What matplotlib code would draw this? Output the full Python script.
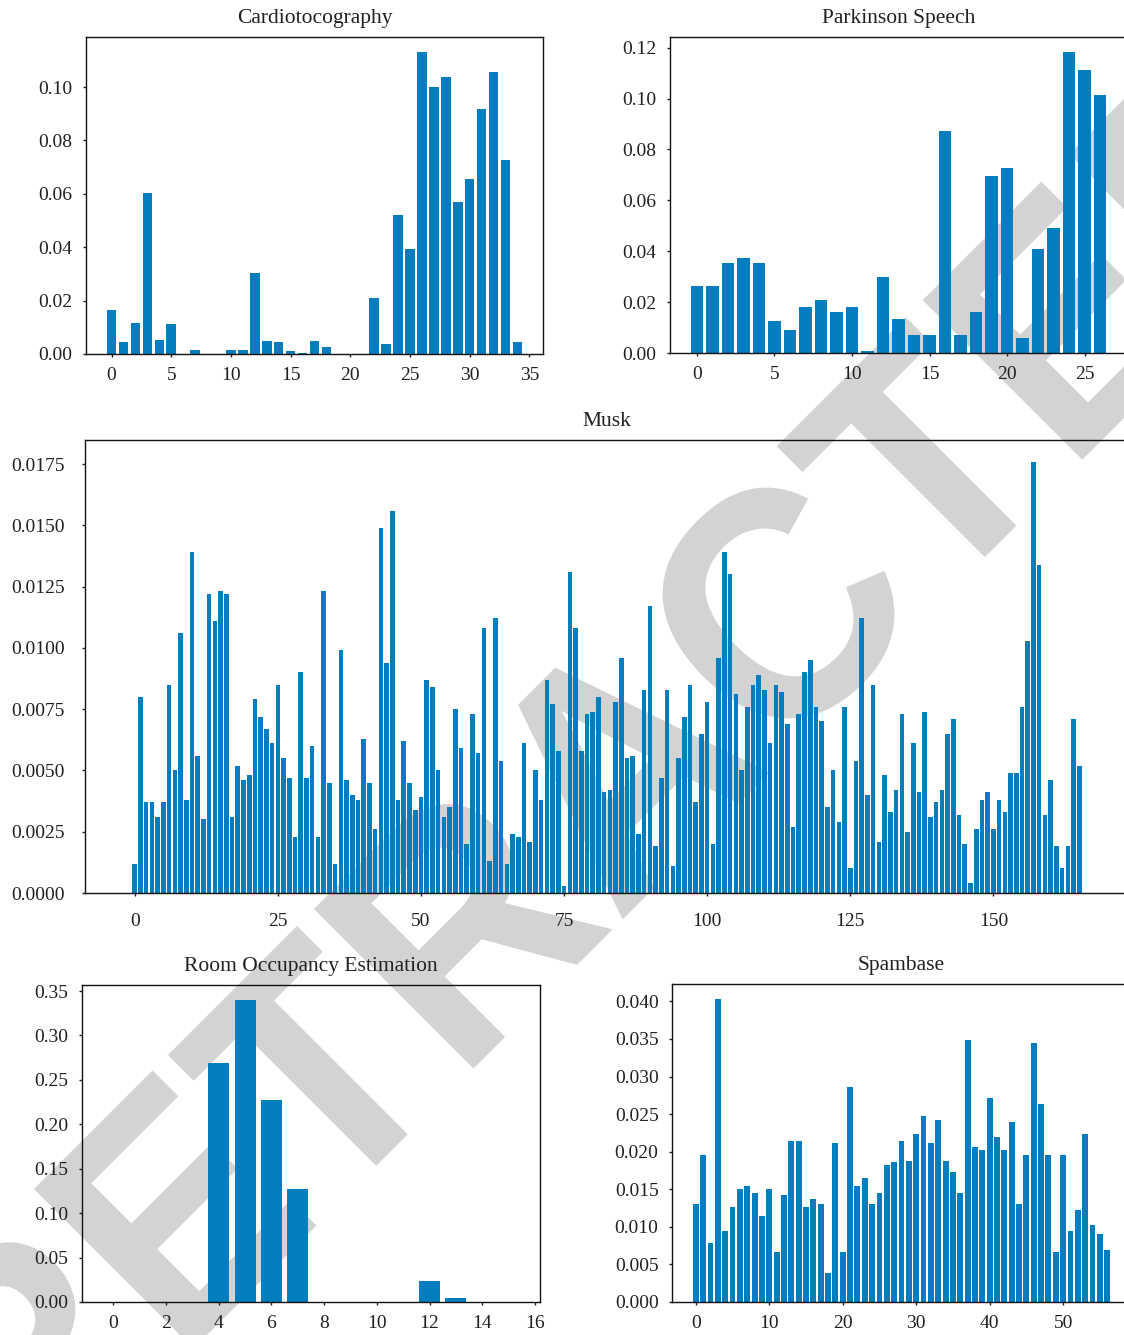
import numpy as np
import matplotlib
matplotlib.use('Agg')
import matplotlib.pyplot as plt
from matplotlib.textpath import TextPath
from matplotlib.patches import PathPatch
from matplotlib.font_manager import FontProperties
from matplotlib.transforms import Affine2D, IdentityTransform

# feature importances per dataset
cardio = [0.0166, 0.0044, 0.0115, 0.0603, 0.0054, 0.0111, 0.0, 0.0016, 0.0, 0.0,
          0.0016, 0.0016, 0.0304, 0.0050, 0.0046, 0.0012, 0.0003, 0.0050, 0.0027, 0.0001,
          0.0001, 0.0001, 0.0211, 0.0039, 0.0521, 0.0394, 0.1131, 0.1000, 0.1037, 0.0570,
          0.0656, 0.0918, 0.1056, 0.0727, 0.0046]

parkinson = [0.0265, 0.0265, 0.0352, 0.0375, 0.0352, 0.0124, 0.0089, 0.0179, 0.0210, 0.0163,
             0.0179, 0.0007, 0.0297, 0.0132, 0.0069, 0.0069, 0.0873, 0.0069, 0.0163, 0.0697,
             0.0728, 0.0058, 0.0410, 0.0493, 0.1183, 0.1112, 0.1014]

musk = [0.0012, 0.0080, 0.0037, 0.0037, 0.0031, 0.0037, 0.0085, 0.0050, 0.0106, 0.0038,
        0.0139, 0.0056, 0.0030, 0.0122, 0.0111, 0.0123, 0.0122, 0.0031, 0.0052, 0.0046,
        0.0048, 0.0079, 0.0072, 0.0067, 0.0061, 0.0085, 0.0055, 0.0047, 0.0023, 0.0090,
        0.0047, 0.0060, 0.0023, 0.0123, 0.0045, 0.0012, 0.0099, 0.0046, 0.0040, 0.0038,
        0.0063, 0.0045, 0.0026, 0.0149, 0.0094, 0.0156, 0.0038, 0.0062, 0.0045, 0.0034,
        0.0039, 0.0087, 0.0084, 0.0050, 0.0031, 0.0035, 0.0075, 0.0059, 0.0020, 0.0073,
        0.0057, 0.0108, 0.0013, 0.0112, 0.0054, 0.0012, 0.0024, 0.0023, 0.0061, 0.0021,
        0.0050, 0.0038, 0.0087, 0.0077, 0.0058, 0.0003, 0.0131, 0.0108, 0.0058, 0.0073,
        0.0074, 0.0080, 0.0041, 0.0042, 0.0078, 0.0096, 0.0055, 0.0056, 0.0024, 0.0083,
        0.0117, 0.0019, 0.0047, 0.0083, 0.0011, 0.0055, 0.0072, 0.0085, 0.0037, 0.0065,
        0.0078, 0.0020, 0.0096, 0.0139, 0.0130, 0.0081, 0.0050, 0.0076, 0.0085, 0.0089,
        0.0083, 0.0061, 0.0085, 0.0082, 0.0069, 0.0027, 0.0073, 0.0090, 0.0095, 0.0076,
        0.0070, 0.0035, 0.0050, 0.0029, 0.0076, 0.0010, 0.0054, 0.0112, 0.0040, 0.0085,
        0.0021, 0.0048, 0.0033, 0.0042, 0.0073, 0.0025, 0.0061, 0.0041, 0.0074, 0.0031,
        0.0037, 0.0042, 0.0065, 0.0071, 0.0032, 0.0020, 0.0004, 0.0026, 0.0038, 0.0041,
        0.0026, 0.0038, 0.0033, 0.0049, 0.0049, 0.0076, 0.0103, 0.0176, 0.0134, 0.0032,
        0.0046, 0.0019, 0.0010, 0.0019, 0.0071, 0.0052]

room = [0.0, 0.0, 0.0, 0.0, 0.2691, 0.3398, 0.2275, 0.1276, 0.0, 0.0,
        0.0, 0.0, 0.0232, 0.0041, 0.0, 0.0]

spam = [0.0130, 0.0195, 0.0079, 0.0403, 0.0095, 0.0127, 0.0151, 0.0154, 0.0145, 0.0114,
        0.0151, 0.0066, 0.0142, 0.0214, 0.0214, 0.0127, 0.0137, 0.0130, 0.0039, 0.0211,
        0.0066, 0.0286, 0.0154, 0.0165, 0.0130, 0.0145, 0.0182, 0.0186, 0.0214, 0.0188,
        0.0223, 0.0247, 0.0211, 0.0242, 0.0188, 0.0173, 0.0145, 0.0348, 0.0206, 0.0202,
        0.0272, 0.0219, 0.0202, 0.0239, 0.0130, 0.0195, 0.0344, 0.0264, 0.0195, 0.0066,
        0.0195, 0.0095, 0.0123, 0.0223, 0.0103, 0.0091, 0.0069]

BAR = '#037dbd'
TXT = '#231f20'
W, H = 1124, 1335

plt.rcParams['font.family'] = ['Liberation Serif', 'DejaVu Serif']
plt.rcParams['font.size'] = 14

fig = plt.figure(figsize=(W / 100, H / 100), dpi=100)


def add_panel(box, values, title, yfmt, xticks, xpad=7.5, ypad=7.5):
    x0, y0, x1, y1 = box
    ax = fig.add_axes([x0 / W, 1 - y1 / H, (x1 - x0) / W, (y1 - y0) / H])
    ax.set_facecolor('none')
    ax.set_zorder(1)
    ax.bar(np.arange(len(values)), values, color=BAR)
    ax.set_title(title, color=TXT, fontsize=15.5, pad=10)
    ax.yaxis.set_major_formatter(plt.FormatStrFormatter(yfmt))
    ax.set_xticks(xticks)
    ax.tick_params(colors=TXT, labelcolor=TXT, length=2.2, width=1)
    ax.tick_params(axis='x', pad=xpad)
    ax.tick_params(axis='y', pad=ypad)
    for s in ax.spines.values():
        s.set_linewidth(1.0)
        s.set_color('#111111')
    return ax


add_panel((86, 37, 543, 354), cardio, 'Cardiotocography', '%.2f', range(0, 36, 5))
add_panel((670, 37, 1127, 353), parkinson, 'Parkinson Speech', '%.2f', range(0, 27, 5))
ax_m = add_panel((85, 440, 1129, 893), musk, 'Musk', '%.4f', range(0, 151, 25),
                 xpad=11.9, ypad=12.6)
ax_m.set_yticks(np.arange(0, 0.0176, 0.0025))
add_panel((82, 985, 540, 1302), room, 'Room Occupancy Estimation', '%.2f', range(0, 17, 2))
ax_s = add_panel((672, 984, 1131, 1302), spam, 'Spambase', '%.3f', range(0, 51, 10))
ax_s.set_yticks(np.arange(0, 0.0401, 0.005))

# diagonal stamp behind the panels (pixel coordinates, origin bottom-left)
EM, SX = 328, 0.945
PX, PY = 699, 843
stamp = TextPath((0, 0), 'RETRACTED', size=EM,
                 prop=FontProperties(family='Liberation Sans', weight='bold'))
bb = stamp.get_extents()
tr = (Affine2D().translate(-(bb.x0 + bb.x1) / 2, 0).scale(SX, 1)
      .rotate_deg(45).translate(PX, H - PY))
fig.add_artist(PathPatch(tr.transform_path(stamp), facecolor='#d3d3d3',
                         edgecolor='none', transform=IdentityTransform(), zorder=-1))

fig.savefig('out.png', dpi=100)
